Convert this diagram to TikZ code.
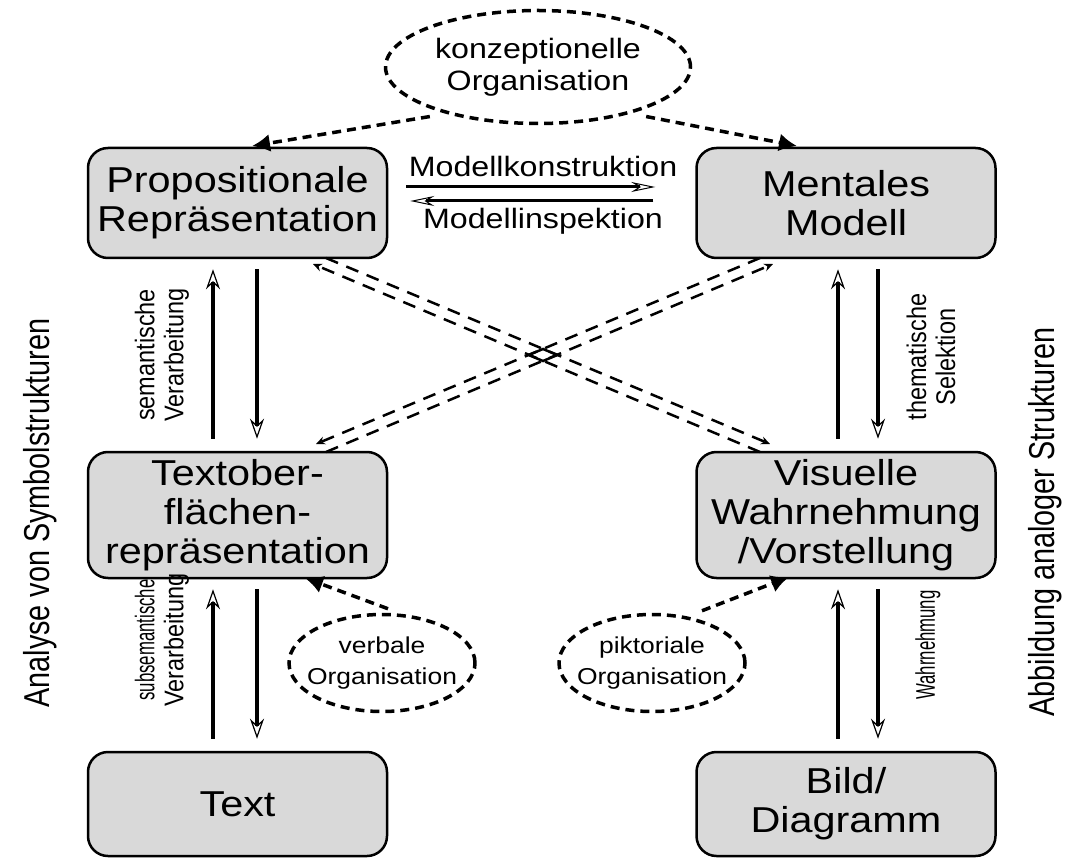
\documentclass[tikz,border=0pt]{standalone}
\usepackage{fontspec}
\setmainfont[FakeStretch=1.15]{Liberation Sans}
\newfontfamily\narrowfont[FakeStretch=0.87]{Liberation Sans}
\newfontfamily\squeezefont[FakeStretch=0.62]{Liberation Sans}
\newfontfamily\sidefont[FakeStretch=0.8]{Liberation Sans}
\usetikzlibrary{arrows.meta,shapes.geometric,calc}
\definecolor{boxgray}{RGB}{217,217,217}
\tikzset{
  box/.style={draw=black, line width=2.5pt, fill=boxgray, rounded corners=20pt,
    minimum width=299pt, align=center, inner sep=0pt,
    font=\fontsize{36}{39}\selectfont},
  orgell/.style={draw=black, ellipse, line width=3.5pt, dash pattern=on 9pt off 6pt,
    inner sep=-40pt, align=center},
  orgarrow/.style={line width=3.5pt, dash pattern=on 9pt off 6pt,
    -{Latex[length=18pt,width=18pt]}},
  flow/.style={line width=3.5pt, -{Stealth[open,length=20pt,width=14pt,line width=1.2pt]}},
  hflow/.style={line width=3pt, -{Stealth[open,length=24pt,width=10pt,line width=1pt]}},
  cross/.style={line width=2.5pt, dash pattern=on 13pt off 9pt,
    -{Stealth[length=9pt,width=8pt]}},
  vlabel/.style={rotate=90, align=center, inner sep=0pt,
    font=\narrowfont\fontsize{27}{29}\selectfont},
  sidelabel/.style={rotate=90, inner sep=0pt, font=\sidefont\fontsize{36}{40}\selectfont},
  hlabel/.style={inner sep=0pt, font=\fontsize{28}{30}\selectfont}
}
\begin{document}
\begin{tikzpicture}[x=1pt,y=-1pt]
\useasboundingbox (0,0) rectangle (1083,858);

% boxes
\node[box, minimum height=110pt] (prop) at (237.5,203) {Propositionale\\Repräsentation};
\node[box, minimum height=110pt] (ment) at (846,203) {Mentales\\Modell};
\node[box, minimum height=126pt] (texto) at (237.5,515) {Textober-\\flächen-\\repräsentation};
\node[box, minimum height=126pt] (vis) at (846,515) {Visuelle\\Wahrnehmung\\/Vorstellung};
\node[box, minimum height=104pt] (text) at (237.5,804) {Text};
\node[box, minimum height=104pt] (bild) at (846,804) {Bild/\\Diagramm};

% ellipses
\node[orgell, minimum width=305pt, minimum height=113pt, font=\fontsize{28}{32}\selectfont] (konz) at (538,67) {konzeptionelle\\Organisation};
\node[orgell, minimum width=186pt, minimum height=97pt, font=\fontsize{23}{31}\selectfont] (verb) at (382,663) {verbale\\Organisation};
\node[orgell, minimum width=186pt, minimum height=97pt, font=\fontsize{23}{31}\selectfont] (pikt) at (652,663) {piktoriale\\Organisation};

% organisation arrows
\coordinate (kpt) at (252,146);
\coordinate (kmt) at (797,146);
\coordinate (vt) at (305,578);
\coordinate (pt) at (789,577);
\draw[orgarrow] ([yshift=-8pt]konz.201) -- (kpt);
\draw[orgarrow] ([yshift=-8pt]konz.339) -- (kmt);
\draw[orgarrow] ([xshift=6pt,yshift=4pt]verb.north) -- (vt);
\draw[orgarrow] ([xshift=50pt,yshift=2pt]pikt.north) -- (pt);

% horizontal arrows
\draw[hflow] ([xshift=18pt,yshift=16pt]prop.east) -- ([xshift=-40pt,yshift=16pt]ment.west);
\draw[hflow] ([xshift=-42pt,yshift=2pt]ment.west) -- ([xshift=22pt,yshift=2pt]prop.east);
\node[hlabel] (mk) at (543,166) {Modellkonstruktion};
\node[hlabel] (mi) at (543,221) {Modellinspektion};

% vertical arrows left
\draw[flow] ([xshift=-24.5pt,yshift=12pt]texto.north) -- ([xshift=-24.5pt,yshift=-10pt]prop.south);
\draw[flow] ([xshift=19.5pt,yshift=-10pt]prop.south) -- ([xshift=19.5pt,yshift=12pt]texto.north);
\draw[flow] ([xshift=-24.5pt,yshift=12pt]text.north) -- ([xshift=-24.5pt,yshift=-10pt]texto.south);
\draw[flow] ([xshift=19.5pt,yshift=-10pt]texto.south) -- ([xshift=19.5pt,yshift=12pt]text.north);
% vertical arrows right
\draw[flow] ([xshift=-8pt,yshift=12pt]vis.north) -- ([xshift=-8pt,yshift=-10pt]ment.south);
\draw[flow] ([xshift=32pt,yshift=-10pt]ment.south) -- ([xshift=32pt,yshift=12pt]vis.north);
\draw[flow] ([xshift=-8pt,yshift=12pt]bild.north) -- ([xshift=-8pt,yshift=-10pt]vis.south);
\draw[flow] ([xshift=32pt,yshift=-10pt]vis.south) -- ([xshift=32pt,yshift=12pt]bild.north);

% vertical labels
\node[vlabel] (lsem) at (162,355) {semantische\\Verarbeitung};
\node[vlabel] (lsub) at (162,640) {{\squeezefont subsemantische}\\Verarbeitung};
\node[vlabel] (lthem) at (931,357) {thematische\\Selektion};
\node[vlabel, font=\squeezefont\fontsize{27}{29}\selectfont] (lwahr) at (928,645) {Wahrnehmung};

% side labels
\node[sidelabel] (sl) at (40,513) {Analyse von Symbolstrukturen};
\node[sidelabel] (sr) at (1045,522) {Abbildung analoger Strukturen};

% crossing double dashed lines
\coordinate (au1) at (326,258);  \coordinate (au2) at (770,444);
\coordinate (al1) at (760,452);  \coordinate (al2) at (313,264);
\coordinate (bu1) at (760,258);  \coordinate (bu2) at (316,444);
\coordinate (bl1) at (326,452);  \coordinate (bl2) at (773,264);
\draw[cross] (au1) -- (au2);
\draw[cross] (al1) -- (al2);
\draw[cross] (bu1) -- (bu2);
\draw[cross] (bl1) -- (bl2);
\draw[line width=2.5pt] (543,349) -- (557.3,355) -- (543,361) -- (528.7,355) -- cycle;
\end{tikzpicture}
\end{document}
